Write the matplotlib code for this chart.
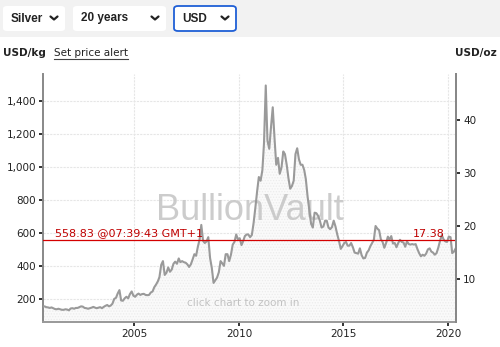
import numpy as np
import pandas as pd
import matplotlib
matplotlib.use("Agg")
import matplotlib.pyplot as plt
import matplotlib.dates as mdates
from matplotlib.patches import FancyBboxPatch, Rectangle
from matplotlib.lines import Line2D
from matplotlib.ticker import FuncFormatter
from datetime import datetime

# Monthly silver price, USD/oz, Aug 2000 .. May 2020
start_month = "2000-08-01"
silver_usd_oz = [
    4.85, 4.90, 4.75, 4.70, 4.60,                                          # 2000
    4.70, 4.55, 4.40, 4.35, 4.45, 4.35, 4.25, 4.25, 4.35, 4.30, 4.15, 4.50,  # 2001
    4.55, 4.45, 4.60, 4.60, 4.75, 4.90, 4.85, 4.60, 4.55, 4.45, 4.55, 4.65,  # 2002
    4.80, 4.65, 4.55, 4.65, 4.75, 4.55, 4.80, 5.00, 5.15, 4.90, 5.05, 5.40,  # 2003
    6.30, 6.50, 7.30, 7.95, 6.00, 5.95, 6.40, 6.70, 6.40, 7.20, 7.70, 6.90,  # 2004
    6.70, 7.10, 7.30, 7.05, 7.20, 7.25, 7.05, 7.00, 7.05, 7.50, 7.70, 8.50,  # 2005
    9.00, 9.60, 10.40, 12.70, 13.40, 10.80, 11.20, 12.20, 11.40, 11.80, 12.90, 13.30,  # 2006
    12.90, 13.90, 13.20, 13.40, 13.20, 13.10, 12.80, 12.30, 12.80, 13.70, 14.70, 14.40,  # 2007
    16.10, 17.50, 20.20, 17.20, 16.80, 17.10, 17.90, 14.00, 12.10, 9.30, 9.80, 10.30,  # 2008
    11.30, 13.40, 13.00, 12.50, 14.70, 14.70, 13.40, 14.60, 16.50, 17.00, 18.40, 17.50,  # 2009
    17.70, 16.40, 17.10, 18.10, 18.40, 18.40, 17.90, 18.30, 20.60, 23.40, 26.50, 29.20,  # 2010
    28.50, 30.50, 35.50, 46.40, 36.00, 34.50, 38.50, 42.30, 36.50, 31.50, 32.80, 29.80,  # 2011
    31.00, 34.00, 33.50, 31.50, 29.00, 27.00, 27.50, 28.50, 33.50, 34.60, 32.50, 31.50,  # 2012
    31.50, 30.50, 28.80, 25.50, 23.00, 20.40, 19.70, 22.50, 22.40, 21.90, 21.00, 19.70,  # 2013
    19.90, 21.00, 21.00, 19.70, 19.40, 19.80, 21.00, 19.90, 18.40, 17.20, 15.70, 16.20,  # 2014
    16.80, 17.00, 16.30, 16.30, 16.80, 16.00, 15.00, 14.90, 14.80, 15.80, 14.50, 13.90,  # 2015
    14.00, 15.00, 15.40, 16.20, 16.80, 17.40, 20.00, 19.50, 19.20, 17.50, 17.00, 15.90,  # 2016
    16.80, 18.00, 17.40, 18.10, 16.70, 16.80, 16.00, 16.80, 17.40, 17.00, 16.90, 16.10,  # 2017
    17.10, 16.60, 16.50, 16.60, 16.50, 16.60, 15.70, 14.90, 14.30, 14.60, 14.40, 14.80,  # 2018
    15.60, 15.80, 15.20, 15.00, 14.60, 14.90, 15.90, 17.20, 18.30, 17.50, 17.10, 17.00,  # 2019
    18.00, 17.90, 14.90, 15.20, 15.80,                                       # 2020
]
OZ_PER_KG = 32.1507
spot_kg = 558.83
spot_oz = 17.38
spot_time = "@07:39:43 GMT+1"
yticks_kg = [200, 400, 600, 800, 1000, 1200, 1400]
yticks_oz = [10, 20, 30, 40]
xtick_years = [2005, 2010, 2015, 2020]
dropdowns = ["Silver", "20 years", "USD"]

dates = pd.date_range(start_month, periods=len(silver_usd_oz), freq="MS") + pd.Timedelta(days=14)
price_kg = np.array(silver_usd_oz) * OZ_PER_KG

W, H = 500, 347
fig = plt.figure(figsize=(W / 100, H / 100), dpi=100)
fig.patch.set_facecolor("white")
plt.rcParams["hatch.linewidth"] = 0.6

def fx(x):
    return x / W

def fy(y):
    return 1 - y / H

# top toolbar
fig.patches.append(Rectangle((0, fy(37)), 1, 37 / H, transform=fig.transFigure,
                             facecolor="#f2f2f2", edgecolor="none", zorder=0))
boxes = [(3, 65), (73, 166), (174, 236)]
for (x0, x1), label in zip(boxes, dropdowns):
    blue = label == "USD"
    fig.patches.append(FancyBboxPatch((fx(x0), fy(31)), fx(x1 - x0), 25 / H,
                                      boxstyle="round,pad=0,rounding_size=0.008",
                                      transform=fig.transFigure, facecolor="white",
                                      edgecolor="#1f5fd6" if blue else "none",
                                      linewidth=1.3, zorder=1))
    fig.text(fx(x0 + 8), fy(18.5), label, fontsize=8.5, fontweight="bold",
             color="#222222", va="center", ha="left", family="Liberation Sans")
    cx = x1 - 11
    fig.lines.append(Line2D([fx(cx - 3.5), fx(cx), fx(cx + 3.5)],
                            [fy(16.5), fy(19.5), fy(16.5)], transform=fig.transFigure,
                            color="#222222", linewidth=1.6, solid_capstyle="round"))

fig.text(fx(3), fy(53), "USD/kg", fontsize=7.5, fontweight="bold", color="#222222",
         va="center", ha="left")
alert = fig.text(fx(54), fy(53), "Set price alert", fontsize=7.5, color="#222222",
                 va="center", ha="left")
fig.text(fx(497), fy(53), "USD/oz", fontsize=7.5, fontweight="bold", color="#222222",
         va="center", ha="right")

ax = fig.add_axes([fx(43), fy(322), fx(456 - 43), (322 - 74) / H])
ax.set_facecolor("white")
ax.fill_between(dates, price_kg, 0, facecolor="#fafafa", edgecolor="#ececec",
                hatch="......", linewidth=0, zorder=1)
ax.plot(dates, price_kg, color="#9a9a9a", linewidth=1.5, zorder=3)

ax.axhline(spot_kg, color="#d40000", linewidth=0.9, zorder=4)
ax.text(0.029, spot_kg + 8, f"{spot_kg:.2f} {spot_time}", transform=ax.get_yaxis_transform(),
        color="#c00000", fontsize=8, va="bottom", ha="left", zorder=5)
ax.text(0.973, spot_kg + 8, f"{spot_oz:.2f}", transform=ax.get_yaxis_transform(),
        color="#c00000", fontsize=8, va="bottom", ha="right", zorder=5)

ax.text(0.5, 0.45, "BullionVault", transform=ax.transAxes, fontsize=26,
        family="Liberation Sans", color="#c4c4c4", alpha=0.85, ha="center", va="center",
        zorder=2)
ax.text(0.485, 0.075, "click chart to zoom in", transform=ax.transAxes, fontsize=7.5,
        color="#c2c2c2", ha="center", va="center", zorder=2)

ax.set_xlim(datetime(2000, 8, 19), datetime(2020, 5, 20))
ax.set_ylim(63, 1561)
ax.set_yticks(yticks_kg)
ax.yaxis.set_major_formatter(FuncFormatter(lambda v, p: f"{int(v):,}"))
ax.set_xticks([datetime(y, 1, 1) for y in xtick_years])
ax.xaxis.set_major_formatter(mdates.DateFormatter("%Y"))
ax.grid(True, color="#e6e6e6", linewidth=0.8, linestyle=(0, (2, 1)), zorder=0)
ax.set_axisbelow(True)

ax.spines["top"].set_visible(False)
ax.spines["left"].set_color("#888888")
ax.spines["left"].set_linewidth(1.4)
ax.spines["right"].set_color("#888888")
ax.spines["right"].set_linewidth(1.4)
ax.spines["bottom"].set_color("#999999")
ax.spines["bottom"].set_linewidth(1.4)
ax.tick_params(axis="both", direction="out", length=3, width=1.4, color="#333333",
               labelsize=7.5, labelcolor="#222222", pad=2)

ax2 = ax.twinx()
ax2.set_ylim(63 / OZ_PER_KG, 1561 / OZ_PER_KG)
ax2.set_yticks(yticks_oz)
for side in ["top", "left", "bottom"]:
    ax2.spines[side].set_visible(False)
ax2.spines["right"].set_color("#888888")
ax2.spines["right"].set_linewidth(1.4)
ax2.tick_params(axis="y", direction="out", length=3, width=1.4, color="#333333",
                labelsize=7.5, labelcolor="#222222", pad=2)

# underline for the link text
fig.canvas.draw()
bb = alert.get_window_extent().transformed(fig.transFigure.inverted())
fig.lines.append(Line2D([bb.x0, bb.x1], [bb.y0 - 0.004, bb.y0 - 0.004],
                        transform=fig.transFigure, color="#444444", linewidth=0.8))

fig.savefig("out.png", dpi=100)
